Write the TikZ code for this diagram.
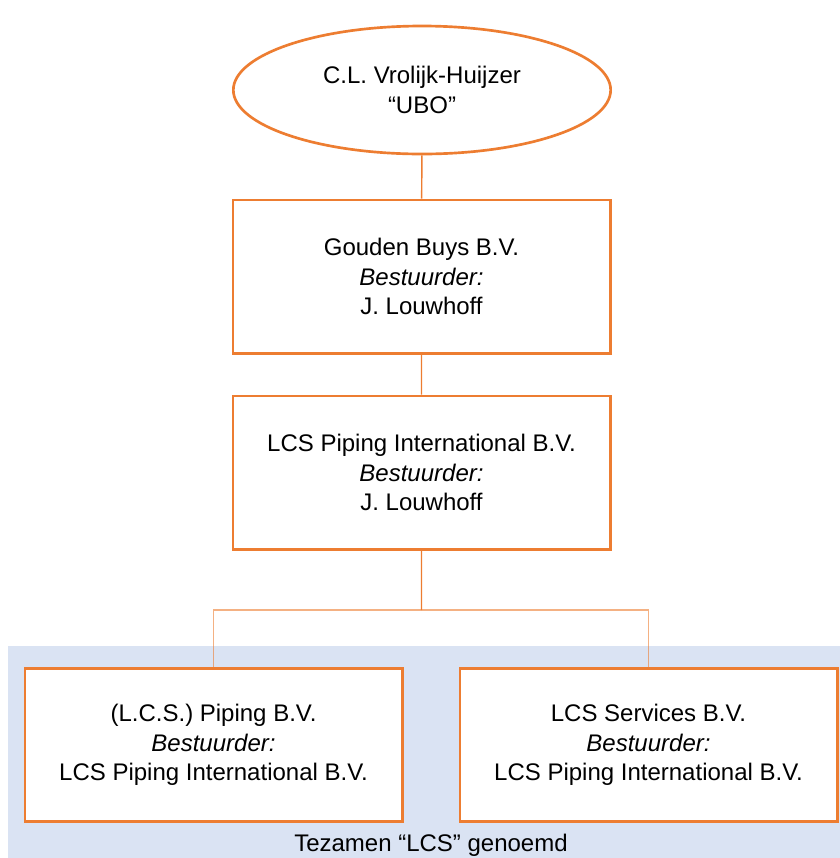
\documentclass[tikz,border=0pt]{standalone}
\usepackage{fontspec}
\setmainfont{Liberation Sans}
\usetikzlibrary{shapes,positioning}
\definecolor{lcsorange}{HTML}{ED7D31}
\definecolor{lcsblue}{HTML}{DAE3F3}
\tikzset{
  entity/.style={draw=lcsorange, line width=2pt, fill=white, align=center,
    minimum width=283pt, minimum height=115pt, inner sep=0pt,
    font=\fontsize{18}{22}\selectfont},
  owner/.style={entity, ellipse, minimum height=96pt},
  link/.style={draw=lcsorange, line width=1.1pt},
  sublink/.style={link, draw opacity=0.6}
}

\begin{document}
\begin{tikzpicture}[x=0.75pt, y=-0.75pt]
    \useasboundingbox (0,0) rectangle (840,858);
    \fill[lcsblue] (8,646) rectangle (840,858);
    \node[owner] (ubo) at (422,90) {C.L. Vrolijk-Huijzer\\``UBO''};
    \node[entity] (gouden) at (421.5,276.5) {Gouden Buys B.V.\\\textit{Bestuurder:}\\J. Louwhoff};
    \node[entity] (intl) at (421.5,472.5) {LCS Piping International B.V.\\\textit{Bestuurder:}\\J. Louwhoff};
    \coordinate (split) at (421.5,610);
    \node[entity] (piping) at (213.5,745) {(L.C.S.) Piping B.V.\\\textit{Bestuurder:}\\LCS Piping International B.V.};
    \node[entity] (services) at (648.5,745) {LCS Services B.V.\\\textit{Bestuurder:}\\LCS Piping International B.V.};
    \node[font=\fontsize{18}{20}\selectfont] (together) at (431,845) {Tezamen ``LCS'' genoemd};
    \path[link] (ubo) -- (gouden)
                (gouden) -- (intl)
                (intl) -- (split);
    \path[sublink] (piping.north) |- (split) -| (services.north);
\end{tikzpicture}
\end{document}
